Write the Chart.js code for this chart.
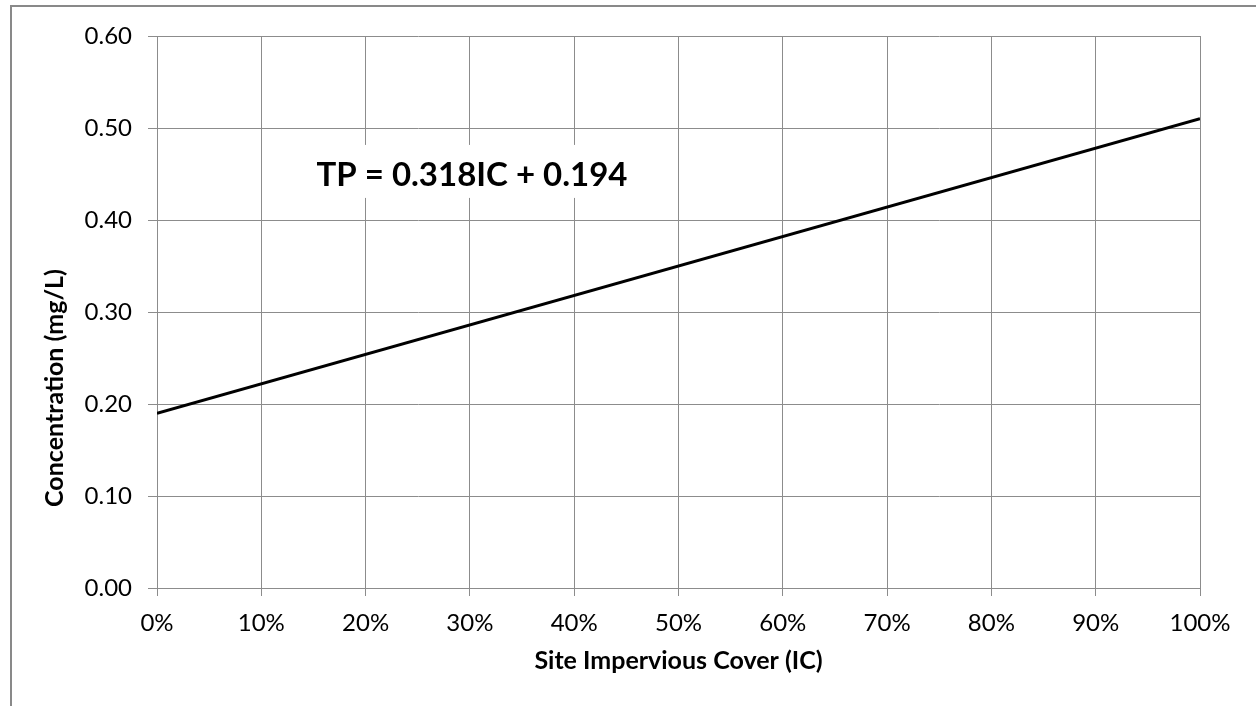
<!DOCTYPE html>
<html>
<head>
<meta charset="utf-8">
<script src="https://cdn.jsdelivr.net/npm/chart.js@4/dist/chart.umd.min.js"></script>
<style>
  html, body { margin: 0; padding: 0; background: #ffffff; overflow: hidden; }
  #wrap { position: relative; width: 1256px; height: 706px; }
  #frame { position: absolute; left: 10px; top: 5px; width: 1400px; height: 900px;
           border: 2px solid #898989; box-sizing: border-box; pointer-events: none; }
  canvas { position: absolute; left: 0; top: 0; }
</style>
</head>
<body>
<div id="wrap">
  <canvas id="c" width="1256" height="706"></canvas>
  <div id="frame"></div>
</div>
<script>
// Data
const coverValues = [0, 1];               // Site impervious cover (fraction)
const concentrationValues = [0.19, 0.51]; // TP concentration (mg/L)
const yTickMin = 0, yTickMax = 0.6, yTickStep = 0.1;
const xTickMin = 0, xTickMax = 1, xTickStep = 0.1;
const equationText = 'TP = 0.318IC + 0.194';
const equationAnchor = [0.302, 0.449]; // data coords of label centre
const xTitleText = 'Site Impervious Cover (IC)';
const yTitleText = 'Concentration (mg/L)';

const FONT = 'Lato, "Open Sans", "DejaVu Sans", sans-serif';
const GRID = '#8c8c8c';

const points = coverValues.map((x, i) => ({ x: x, y: concentrationValues[i] }));

const annotationPlugin = {
  id: 'annotations',
  afterDatasetsDraw(chart) {
    const { ctx, scales } = chart;
    // equation label with white box
    const cx = scales.x.getPixelForValue(equationAnchor[0]);
    const cy = scales.y.getPixelForValue(equationAnchor[1]);
    ctx.save();
    ctx.font = 'bold 33px ' + FONT;
    const w = ctx.measureText(equationText).width;
    ctx.fillStyle = '#ffffff';
    ctx.fillRect(cx - w / 2 - 10, cy - 30, w + 20, 53);
    ctx.fillStyle = '#000000';
    ctx.textAlign = 'center';
    ctx.textBaseline = 'middle';
    ctx.fillText(equationText, cx, cy);
    ctx.restore();
  },
  afterDraw(chart) {
    const { ctx, chartArea } = chart;
    // vertical axis title (placed lower than centre, as in the reference)
    ctx.save();
    ctx.font = 'bold 25px ' + FONT;
    ctx.fillStyle = '#000000';
    ctx.textAlign = 'center';
    ctx.textBaseline = 'middle';
    ctx.translate(55, chartArea.bottom - 200);
    ctx.rotate(-Math.PI / 2);
    ctx.fillText(yTitleText, 0, 0);
    ctx.restore();
  }
};

new Chart(document.getElementById('c'), {
  type: 'scatter',
  data: {
    datasets: [{
      label: 'TP',
      data: points,
      showLine: true,
      borderColor: '#000000',
      borderWidth: 3,
      pointRadius: 0,
      pointHoverRadius: 0,
      fill: false,
      tension: 0
    }]
  },
  options: {
    responsive: false,
    animation: false,
    devicePixelRatio: 1,
    events: [],
    layout: { padding: { top: 36, right: 56, left: 0, bottom: 0 } },
    plugins: { legend: { display: false }, tooltip: { enabled: false } },
    scales: {
      x: {
        type: 'linear',
        min: xTickMin, max: xTickMax,
        afterFit(scale) { scale.height = 118; },
        border: { display: true, color: GRID, width: 1 },
        grid: { color: GRID, lineWidth: 1, tickLength: 8, drawTicks: true },
        ticks: {
          stepSize: xTickStep,
          color: '#000000',
          font: { family: FONT, size: 24 },
          padding: 13,
          maxRotation: 0,
          callback: v => Math.round(v * 100) + '%'
        },
        title: {
          display: true,
          text: xTitleText,
          color: '#000000',
          font: { family: FONT, size: 25, weight: 'bold' },
          padding: { top: 0, bottom: 30 }
        }
      },
      y: {
        type: 'linear',
        min: yTickMin, max: yTickMax,
        afterFit(scale) { scale.width = 157; },
        border: { display: true, color: GRID, width: 1 },
        grid: { color: GRID, lineWidth: 1, tickLength: 9, drawTicks: true },
        ticks: {
          stepSize: yTickStep,
          color: '#000000',
          font: { family: FONT, size: 24 },
          padding: 16,
          callback: v => Number(v).toFixed(2)
        },
        title: { display: false, text: yTitleText }
      }
    }
  },
  plugins: [annotationPlugin]
});
</script>
</body>
</html>
